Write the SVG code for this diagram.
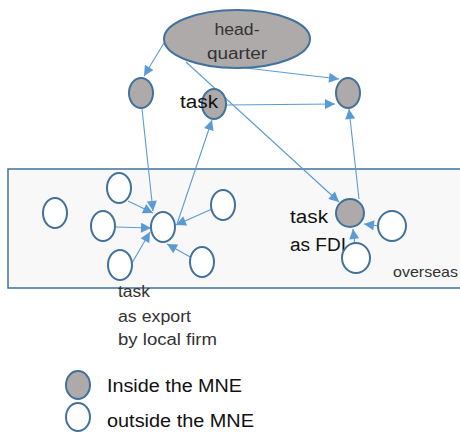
<svg xmlns="http://www.w3.org/2000/svg" width="460" height="432" viewBox="0 0 460 432">
<defs>
<marker id="ah" viewBox="0 0 10 10" refX="10" refY="5" markerWidth="11" markerHeight="10" markerUnits="userSpaceOnUse" orient="auto">
<path d="M0,0 L10,5 L0,10 z" fill="#5b9bd5"/>
</marker>
<style>
.in{fill:#aeaaaa;stroke:#41719c;stroke-width:2}
.out{fill:#fff;stroke:#41719c;stroke-width:2}
.c{stroke:#5b9bd5;stroke-width:1.1;fill:none;marker-end:url(#ah)}
text{font-family:"Liberation Sans",Arial,sans-serif}
.t{font-size:18px;fill:#111}
.g{font-size:16px;fill:#333}
</style>
</defs>
<rect x="0" y="0" width="460" height="432" fill="#fff"/>
<rect id="overseas" x="8" y="169" width="460" height="119" fill="#f8f8f8" stroke="#41719c" stroke-width="1.5"/>
<g id="connectors">
<line class="c" x1="164" y1="43" x2="144" y2="76"/>
<line class="c" x1="246" y1="68" x2="339" y2="79"/>
<line class="c" x1="226" y1="105" x2="335" y2="104"/>
<line class="c" x1="186" y1="62" x2="339" y2="202"/>
<line class="c" x1="359" y1="199" x2="349" y2="109"/>
<line class="c" x1="142" y1="109" x2="153" y2="211"/>
<line class="c" x1="177" y1="224" x2="212" y2="120"/>
<line class="c" x1="128" y1="201" x2="153" y2="213"/>
<line class="c" x1="116" y1="227" x2="151" y2="228"/>
<line class="c" x1="132" y1="263" x2="150" y2="232"/>
<line class="c" x1="212" y1="209" x2="176" y2="225"/>
<line class="c" x1="192" y1="258" x2="167" y2="244"/>
<line class="c" x1="379" y1="226" x2="364" y2="224"/>
<line class="c" x1="355" y1="245" x2="353" y2="229"/>
</g>
<g id="headquarter">
<ellipse class="in" cx="237" cy="39" rx="73" ry="29"/>
<text class="g" x="237" y="35" text-anchor="middle" font-size="18" textLength="45" lengthAdjust="spacingAndGlyphs">head-</text>
<text class="g" x="237" y="59" text-anchor="middle" font-size="18" textLength="60" lengthAdjust="spacingAndGlyphs">quarter</text>
</g>
<g id="n-left"><ellipse class="in" cx="141" cy="93" rx="12" ry="15"/></g>
<g id="n-task">
<ellipse class="in" cx="214" cy="104" rx="12" ry="15"/>
<text class="t" x="180" y="108" textLength="38" lengthAdjust="spacingAndGlyphs">task</text>
</g>
<g id="n-right"><ellipse class="in" cx="348" cy="93" rx="12" ry="15"/></g>
<g id="o1"><ellipse class="out" cx="55" cy="213" rx="12" ry="15"/></g>
<g id="o2"><ellipse class="out" cx="119" cy="188" rx="12" ry="15"/></g>
<g id="o3"><ellipse class="out" cx="103" cy="226" rx="12" ry="15"/></g>
<g id="o4"><ellipse class="out" cx="120" cy="265" rx="12" ry="15"/></g>
<g id="hub">
<ellipse class="out" cx="163" cy="227" rx="12" ry="15"/>
<text class="g" x="118" y="297" textLength="32" lengthAdjust="spacingAndGlyphs">task</text>
<text class="g" x="118" y="322" textLength="73" lengthAdjust="spacingAndGlyphs">as export</text>
<text class="g" x="118" y="345" textLength="99" lengthAdjust="spacingAndGlyphs">by local firm</text>
</g>
<g id="o5"><ellipse class="out" cx="223" cy="205" rx="12" ry="15"/></g>
<g id="o6"><ellipse class="out" cx="202" cy="262" rx="12" ry="15"/></g>
<g id="n-fdi">
<ellipse class="in" cx="350" cy="213" rx="14" ry="14"/>
<text class="t" x="290" y="223" textLength="38" lengthAdjust="spacingAndGlyphs">task</text>
<text class="t" x="290" y="251" textLength="56" lengthAdjust="spacingAndGlyphs">as FDI</text>
</g>
<g id="o7"><ellipse class="out" cx="392" cy="226" rx="14" ry="15"/></g>
<g id="o8"><ellipse class="out" cx="356" cy="258" rx="14" ry="15"/></g>
<text x="393" y="277" font-size="15" fill="#333" textLength="65" lengthAdjust="spacingAndGlyphs">overseas</text>
<g id="legend-inside">
<ellipse class="in" cx="78" cy="385" rx="12" ry="14"/>
<text class="t" x="107" y="392" textLength="135" lengthAdjust="spacingAndGlyphs">Inside the MNE</text>
</g>
<g id="legend-outside">
<ellipse class="out" cx="78" cy="417" rx="12" ry="14"/>
<text class="t" x="107" y="427" textLength="147" lengthAdjust="spacingAndGlyphs">outside the MNE</text>
</g>
</svg>
